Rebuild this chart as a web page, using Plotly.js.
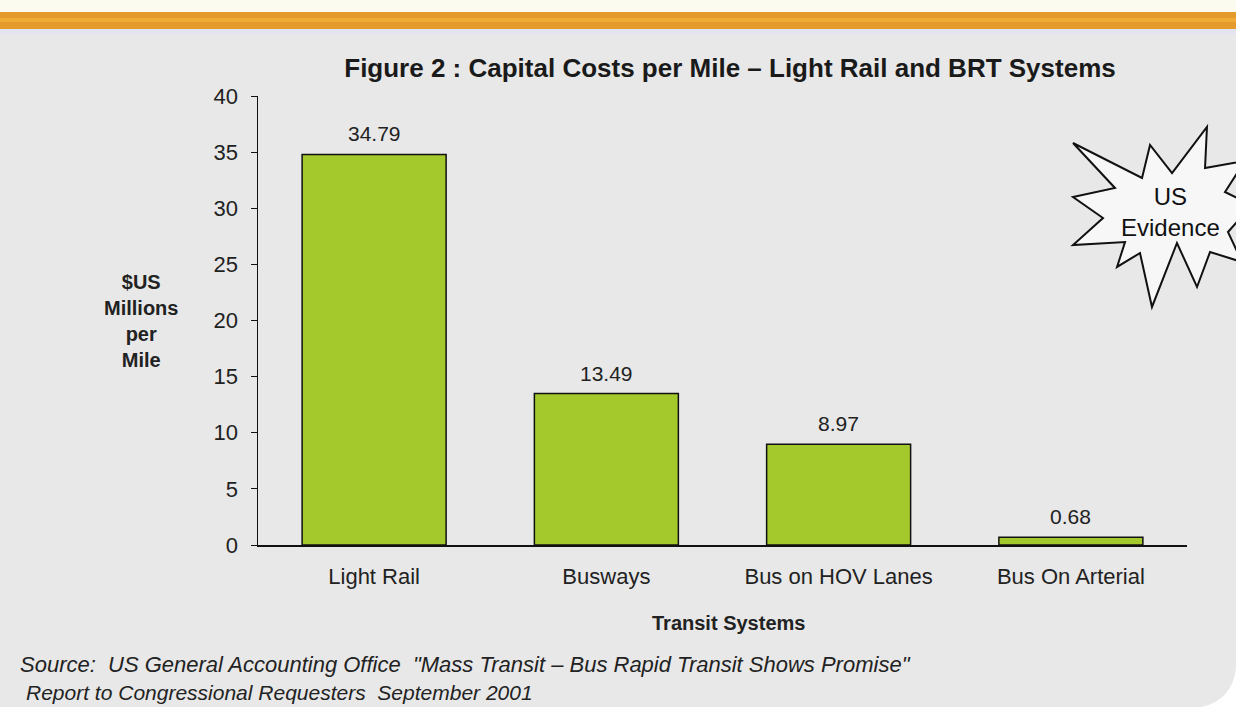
<!DOCTYPE html>
<html>
<head>
<meta charset="utf-8">
<script src="https://cdn.plot.ly/plotly-3.0.1.min.js"></script>
<style>html,body{margin:0;padding:0;background:#ffffff;}#chart{width:1236px;height:707px;}</style>
</head>
<body>
<div id="chart"></div>
<script>
// ---- data ----
const categories = ["Light Rail", "Busways", "Bus on HOV Lanes", "Bus On Arterial"];
const costPerMile = [34.79, 13.49, 8.97, 0.68];
const valueLabels = ["34.79", "13.49", "8.97", "0.68"];
const yTicks = [0, 5, 10, 15, 20, 25, 30, 35, 40];

// ---- geometry helpers (pixel -> paper) ----
const W = 1236, H = 707;
const L = 258, R = 49, T = 96, B = 162;
const PW = W - L - R, PH = H - T - B;
const px = x => (x - L) / PW;
const py = y => (H - B - y) / PH;

// starburst decoration (pixel outline)
const starPts = [[1073,143],[1142,178],[1150,145],[1172,173],[1207,127],[1205,168],[1245,161],[1225,192],[1252,205],[1228,232],[1242,262],[1210,252],[1197,287],[1177,243],[1152,307],[1140,253],[1117,267],[1125,242],[1073,245],[1103,218],[1073,197],[1115,188]];
const starPath = "M " + starPts.map(p => px(p[0]).toFixed(4) + "," + py(p[1]).toFixed(4)).join(" L ") + " Z";

const cornerPath = "M " + px(1236) + "," + py(668) + " Q " + px(1232) + "," + py(703) + " " + px(1196) + "," + py(708) + " L " + px(1237) + "," + py(708) + " Z";

const shapes = [
  {type:"rect", xref:"paper", yref:"paper", x0:px(-2), x1:px(1240), y0:py(12), y1:py(-2), fillcolor:"#fcfbf0", line:{width:0}, layer:"below"},
  {type:"rect", xref:"paper", yref:"paper", x0:px(0), x1:px(1240), y0:py(29), y1:py(12), fillcolor:"#e49b2c", line:{width:0}, layer:"below"},
  {type:"rect", xref:"paper", yref:"paper", x0:px(0), x1:px(1240), y0:py(22), y1:py(18), fillcolor:"#efab35", line:{width:0}, layer:"below"},
  {type:"rect", xref:"paper", yref:"paper", x0:px(0), x1:px(1240), y0:py(34), y1:py(29), fillcolor:"#e3e4ef", line:{width:0}, layer:"below"},
  {type:"path", xref:"paper", yref:"paper", path:cornerPath, fillcolor:"#ffffff", line:{width:0}},
  {type:"path", xref:"paper", yref:"paper", path:starPath, fillcolor:"#f7f7f7", line:{color:"#111111", width:2}}
];

const txt = "#222222";
const F = "Liberation Sans, Arial, sans-serif";
const annotations = [];
categories.forEach((c, i) => {
  annotations.push({x:c, y:costPerMile[i], xref:"x", yref:"y", text:valueLabels[i], showarrow:false, yanchor:"bottom", yshift:7, font:{family:F, size:21, color:txt}});
});
annotations.push({xref:"paper", yref:"paper", x:px(141), y:py(321), text:"<b>$US<br>Millions<br>per<br>Mile</b>", showarrow:false, xanchor:"center", yanchor:"middle", align:"center", font:{family:F, size:20, color:txt}});
annotations.push({xref:"paper", yref:"paper", x:px(728), y:py(623), text:"<b>Transit Systems</b>", showarrow:false, xanchor:"center", yanchor:"middle", font:{family:F, size:20, color:txt}});
annotations.push({xref:"paper", yref:"paper", x:px(18), y:py(664), text:"<i>Source:  US General Accounting Office  \"Mass Transit – Bus Rapid Transit Shows Promise\"</i>", showarrow:false, xanchor:"left", yanchor:"middle", font:{family:F, size:22, color:txt}});
annotations.push({xref:"paper", yref:"paper", x:px(24), y:py(692), text:"<i>Report to Congressional Requesters  September 2001</i>", showarrow:false, xanchor:"left", yanchor:"middle", font:{family:F, size:21, color:txt}});
annotations.push({xref:"paper", yref:"paper", x:px(1170), y:py(212), text:"US<br>Evidence", showarrow:false, xanchor:"center", yanchor:"middle", align:"center", font:{family:F, size:24, color:"#111111"}});

const data = [{
  type:"bar",
  x:categories,
  y:costPerMile,
  marker:{color:"#a3c92c", line:{color:"#111111", width:1.5}},
  width:0.62,
  hoverinfo:"skip"
}];

const layout = {
  width:W, height:H,
  margin:{l:L, r:R, t:T, b:B, pad:0},
  paper_bgcolor:"#e8e8e8",
  plot_bgcolor:"#e8e8e8",
  showlegend:false,
  title:{text:"<b>Figure 2 : Capital Costs per Mile – Light Rail and BRT Systems</b>", x:730/W, xanchor:"center", xref:"container", y:1-68/H, yanchor:"middle", yref:"container", font:{family:F, size:26, color:"#1a1a1a"}},
  xaxis:{type:"category", range:[-0.5, 3.5], showline:true, linecolor:"#111111", linewidth:1.5, ticks:"", showgrid:false, zeroline:false, tickfont:{family:F, size:22, color:txt}, ticklabelstandoff:11, fixedrange:true},
  yaxis:{range:[0, 40], tickvals:yTicks, ticktext:yTicks.map(String), showline:true, linecolor:"#111111", linewidth:1.5, ticks:"outside", ticklen:6, tickcolor:"#111111", tickwidth:1, showgrid:false, zeroline:false, tickfont:{family:F, size:22, color:txt}, ticklabelstandoff:8, fixedrange:true},
  shapes:shapes,
  annotations:annotations
};

Plotly.newPlot("chart", data, layout, {displayModeBar:false, staticPlot:true});
</script>
</body>
</html>
